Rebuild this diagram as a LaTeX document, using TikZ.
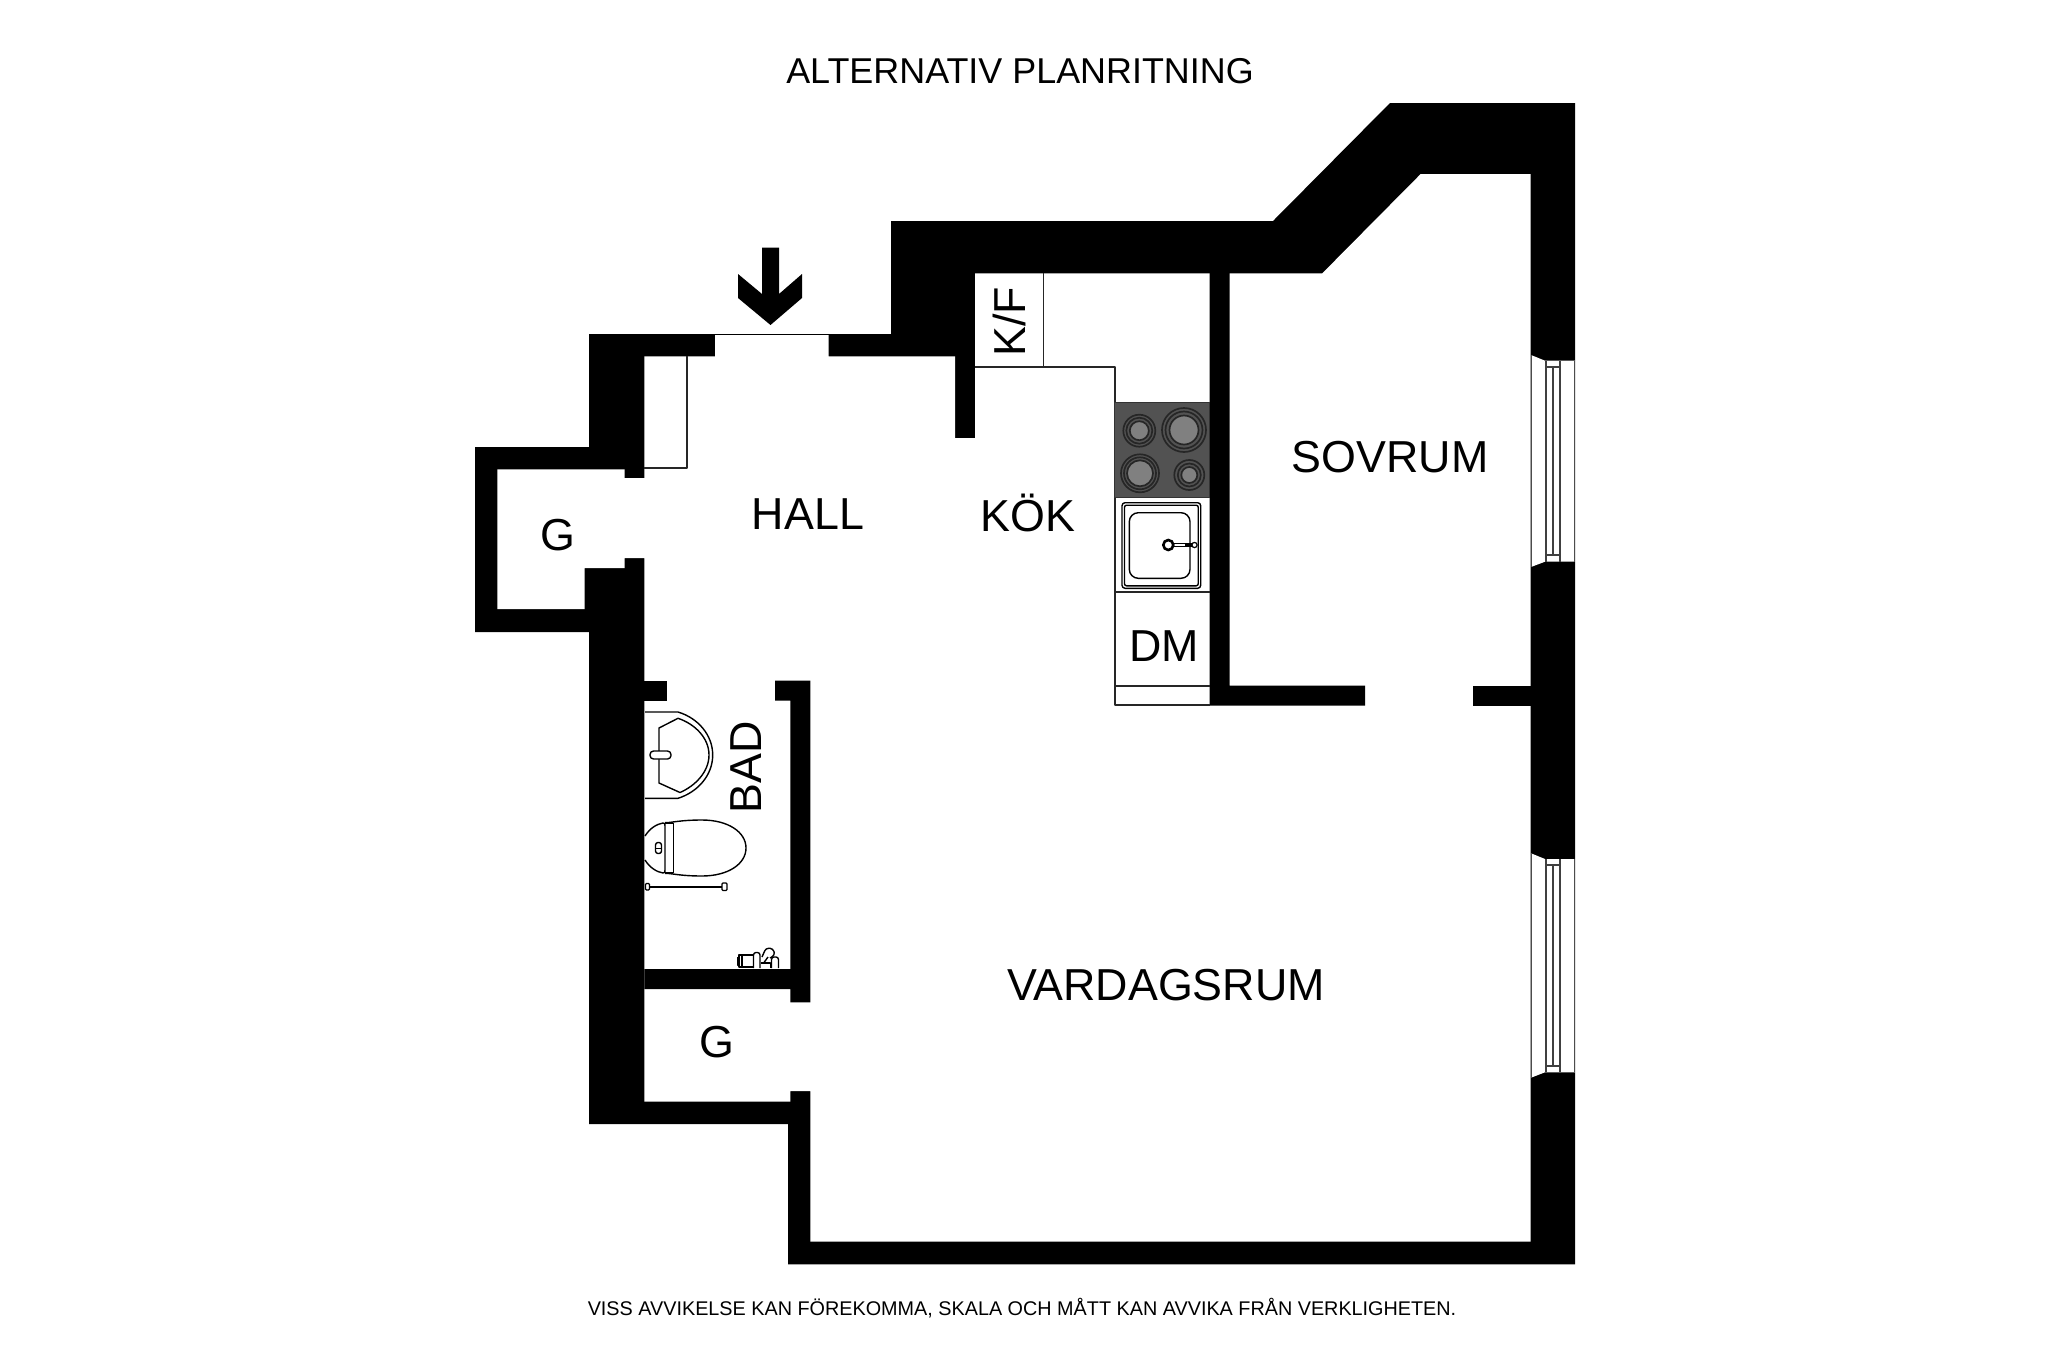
\documentclass[tikz,border=0pt]{standalone}
\usepackage{fontspec}
\setmainfont{Liberation Sans}
\tikzset{
  wall/.style={fill=black,draw=none},
  room/.style={fill=white,draw=none},
  fixture/.style={draw=black!85,line width=1.8pt,fill=none,line join=round},
  thinline/.style={draw=black,line width=1.4pt,fill=none,line join=round},
  lbl/.style={inner sep=0pt,text height=32pt,text depth=0pt,font=\fontsize{44.8}{50}\selectfont},
  titlelbl/.style={inner sep=0pt,text height=26pt,text depth=0pt,font=\fontsize{35.9}{40}\selectfont},
  footlbl/.style={inner sep=0pt,text height=14pt,text depth=0pt,font=\fontsize{19.8}{24}\selectfont},
  burner/.style={draw=black!85,line width=1.7pt,fill=none},
  burnerc/.style={draw=black!85,line width=1.7pt,fill=black!50},
  winline/.style={draw=black!75,line width=2pt},
}
\begin{document}
\begin{tikzpicture}[x=1pt,y=-1pt]
\useasboundingbox[fill=white] (0,0) rectangle (2048,1365);
% outer shell
\fill[wall] (891,221)--(1273,221)--(1390,103)--(1575,103)--(1575,1264.3)--(788,1264.3)--(788,1124)--(589,1124)--(589,632)--(475,632)--(475,447)--(589,447)--(589,334)--(891,334)--cycle;
% interior
\fill[room] (715,333)--(715,356.3)--(644.4,356.3)--(644.4,478)--(624.5,478)--(624.5,469.3)--(497.4,469.3)--(497.4,609)--(584.7,609)--(584.7,568)--(624.5,568)--(624.5,558)--(644.4,558)--(644.4,1101.7)--(790.3,1101.7)--(790.3,1091)--(810.3,1091)--(810.3,1241.7)--(1530.7,1241.7)--(1530.7,174)--(1420.7,174)--(1322.3,273.3)--(975,273.3)--(975,438)--(955,438)--(955,356.3)--(828.6,356.3)--(828.6,333)--cycle;
% partitions
\fill[wall] (644.4,680.7) rectangle (666.5,700.7);
\fill[wall] (775,680.7)--(810.3,680.7)--(810.3,1002.3)--(790.3,1002.3)--(790.3,989)--(644.4,989)--(644.4,969)--(790.3,969)--(790.3,700.7)--(775,700.7)--cycle;
\fill[wall] (1209.5,273)--(1229.5,273)--(1229.5,685.7)--(1365,685.7)--(1365,705.7)--(1209.5,705.7)--cycle;
\fill[wall] (1473.3,685.7) rectangle (1531,705.7);
% entry
\draw[thinline] (715,334.5)--(828.6,334.5);
\fill[wall] (762,247.7)--(779,247.7)--(779,294)--(802,274)--(802,298)--(770.5,325)--(738,298)--(738,274)--(762,294)--cycle;
% closet by the hall
\draw[fixture] (644.4,468.3)--(686.7,468.3)--(686.7,356.3);
% kitchen lines
\draw[fixture] (975,366.7)--(1114.8,366.7)--(1114.8,705)--(1209.5,705);
\draw[fixture] (1043.4,273.3)--(1043.4,366.7);
\draw[fixture] (1114.8,592)--(1209.5,592);
\draw[fixture] (1114.8,686)--(1209.5,686);
% hob
\fill[draw=black!80,line width=1.3pt,fill=black!68] (1114.8,402.7) rectangle (1209.5,497.3);
\foreach \cx/\cy/\ra/\rb/\rc in {1139.3/430.7/16/13/9.5, 1184/430/22/18.5/14.5, 1140/473.3/19/16/13, 1189.3/475/15/11.5/8}{
  \draw[burner] (\cx,\cy) circle (\ra);
  \draw[burner] (\cx,\cy) circle (\rb);
  \draw[burnerc] (\cx,\cy) circle (\rc);
}
% sink
\draw[thinline,rounded corners=3pt] (1122,502.7) rectangle (1200.7,588.3);
\draw[thinline,rounded corners=2pt] (1124.5,505.2) rectangle (1198.2,585.8);
\draw[thinline,rounded corners=9pt] (1129.3,512.7) rectangle (1190,578.3);
\draw[thinline] (1168.3,543.5)--(1191.5,543.5) (1168.3,546.5)--(1191.5,546.5);
\fill[black] (1185,543.2) rectangle (1192,546.8);
\draw[draw=black,line width=1.2pt,fill=white] (1194.5,545) circle (2.6);
\draw[draw=black,line width=2.6pt,fill=white] (1168.3,545) circle (5);
% wash basin
\draw[thinline] (645,712)--(678,712) .. controls (698,718) and (712.7,735) .. (712.7,755) .. controls (712.7,775) and (698,792) .. (678,798.3)--(645,798.3);
\draw[thinline] (659,728)--(678,718.3) .. controls (695,724) and (709,738) .. (709,755) .. controls (709,772) and (695,786) .. (680,792.5)--(659,783)--cycle;
\draw[thinline,rounded corners=3.5pt,fill=white] (650,751) rectangle (671,759);
% toilet
\draw[thinline] (665,822.7) .. controls (672,822.7) and (680,820) .. (702,820) .. controls (728,820) and (746,832) .. (746,848) .. controls (746,864) and (728,876) .. (702,876) .. controls (680,876) and (672,873.3) .. (665,873.3);
\draw[thinline] (645,836) .. controls (650,828) and (657,824) .. (663,823) .. controls (665,823) and (665,824) .. (665,826)--(665,870) .. controls (665,872) and (665,873) .. (663,873) .. controls (657,872) and (650,868) .. (645,860);
\draw[thinline] (673.3,823)--(673.3,873);
\draw[thinline] (665,823)--(673.3,823) (665,873)--(673.3,873);
\draw[thinline,rounded corners=2.5pt] (655.5,842.5) rectangle (661.5,853.5);
\draw[draw=black,line width=1pt] (655.5,848)--(661.5,848);
% towel bar
\draw[draw=black,line width=1.6pt] (648,886.7)--(724,886.7);
\draw[draw=black,line width=1.3pt,fill=white,rounded corners=1pt] (645.5,883.5) rectangle (649.5,890);
\draw[draw=black,line width=1.3pt,fill=white,rounded corners=1pt] (722,883) rectangle (727,890.5);
% toiletries
\draw[thinline] (739,955) rectangle (753.3,967);
\draw[thinline] (737.3,957.5) rectangle (739,965);
\draw[thinline] (742,955)--(742,967);
\draw[thinline,rounded corners=2.5pt] (753.5,968)--(753.5,952.5)--(760,952.5)--(760,968);
\draw[thinline,rounded corners=2.5pt] (771.5,968)--(771.5,957)--(778.5,957)--(778.5,968);
\draw[thinline,rounded corners=3pt] (762,957)--(766,948)--(773,948.5)--(775,955)--(770,958);
\draw[thinline] (760.5,963)--(770.5,963)--(770.5,968);
\draw[thinline] (764,962.5)--(768,957);
% windows
\foreach \ya/\yb/\yc/\yd/\ye/\yf in {355/360.7/366.7/555/561.7/567, 853.3/859/865.3/1065.7/1072.3/1077.7}{
  \fill[white] (1531,\ya)--(1545,\yb)--(1575,\yb)--(1575,\ye)--(1545,\ye)--(1531,\yf)--cycle;
  \draw[draw=black!70,line width=1.8pt] (1531.5,\ya)--(1531.5,\yf) (1574.5,\yb)--(1574.5,\ye);
  \draw[winline] (1546,\yb)--(1546,\ye) (1552.7,\yc)--(1552.7,\yd) (1560,\yb)--(1560,\ye);
  \draw[winline] (1546,\yc)--(1560,\yc) (1546,\yd)--(1560,\yd);
}
% labels
\node[titlelbl] (title) at (1020,70) {ALTERNATIV PLANRITNING};
\node[footlbl] (foot) at (1022,1308) {VISS AVVIKELSE KAN FÖREKOMMA, SKALA OCH MÅTT KAN AVVIKA FRÅN VERKLIGHETEN.};
\node[lbl] (sov) at (1390,456) {SOVRUM};
\node[lbl] (hall) at (808,513) {HALL};
\node[lbl] (kok) at (1028,515) {KÖK};
\node[lbl] (g1) at (557.5,534.5) {G};
\node[lbl] (g2) at (717,1041.7) {G};
\node[lbl] (dm) at (1164,645) {DM};
\node[lbl] (var) at (1166,984.5) {VARDAGSRUM};
\node[lbl,rotate=90] (kf) at (1009.5,322) {K/F};
\node[lbl,rotate=90] (bad) at (745,767.5) {BAD};
\end{tikzpicture}
\end{document}
